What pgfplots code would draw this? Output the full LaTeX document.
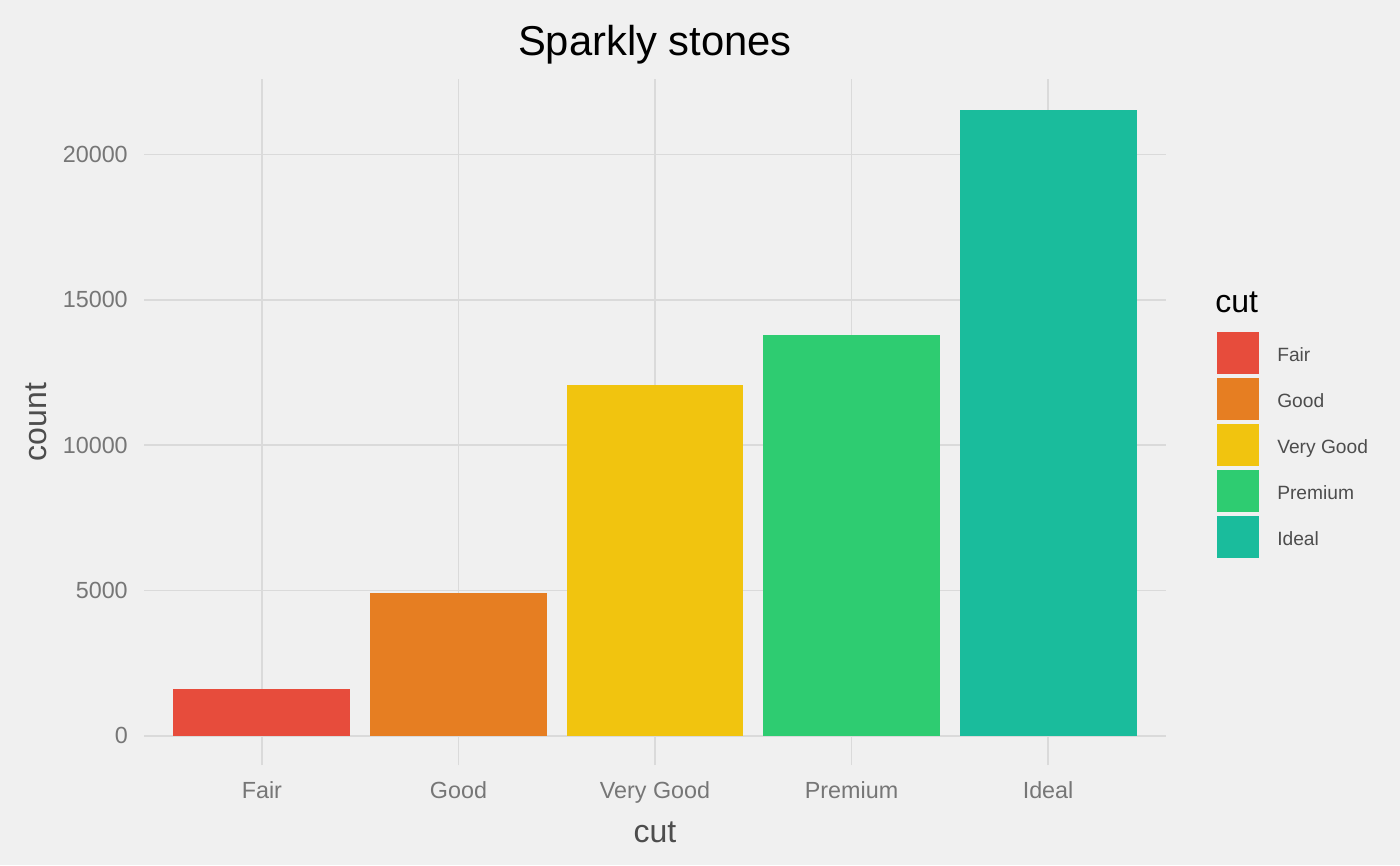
\documentclass[border=0pt]{standalone}
\usepackage{fontspec}
\setmainfont{Liberation Sans}
\usepackage{pgfplots}
\pgfplotsset{compat=1.18}

\definecolor{bgColor}{HTML}{F0F0F0}
\definecolor{gridColor}{HTML}{DADADA}
\definecolor{tickText}{HTML}{767676}
\definecolor{labText}{HTML}{4D4D4D}
\definecolor{cFair}{HTML}{E74C3C}
\definecolor{cGood}{HTML}{E67E22}
\definecolor{cVeryGood}{HTML}{F1C40F}
\definecolor{cPremium}{HTML}{2ECC71}
\definecolor{cIdeal}{HTML}{1ABC9C}

\begin{document}
\begin{tikzpicture}
% 1 unit = 1 pixel of the 1400x865 reference, y grows downwards
\begin{scope}[x=0.75pt, y=-0.75pt]
\fill[bgColor] (0,0) rectangle (1400,865);

% titles
\node[anchor=base, inner sep=0pt, font=\fontsize{31.3}{36}\selectfont] at (655,55) {Sparkly stones};
\node[anchor=base, inner sep=0pt, text=labText, font=\fontsize{24}{28}\selectfont] at (655,842) {cut};
\node[anchor=base, rotate=90, inner sep=0pt, text=labText, font=\fontsize{24}{28}\selectfont] at (46,422) {count};

% legend
\node[anchor=base west, inner sep=0pt, font=\fontsize{24}{28}\selectfont] at (1215,312) {cut};
\foreach \c/\t [count=\i from 0] in {cFair/Fair, cGood/Good, cVeryGood/Very Good, cPremium/Premium, cIdeal/Ideal} {
    \fill[\c] (1217,332+46*\i) rectangle (1259,374+46*\i);
    \node[anchor=base west, inner sep=0pt, text=labText, font=\fontsize{14.4}{17}\selectfont] at (1277,361+46*\i) {\t};
}
\end{scope}

% panel: x 144..1166 px, y 79..765 px
\begin{axis}[
    at={(108pt,-573.75pt)}, anchor=south west,
    scale only axis,
    width=766.5pt, height=514.5pt,
    xmin=0.4, xmax=5.6,
    ymin=-1001, ymax=22600,
    xtick={1,2,3,4,5},
    xticklabels={Fair,Good,Very Good,Premium,Ideal},
    ytick={0,5000,10000,15000,20000},
    scaled y ticks=false,
    /pgf/number format/assume math mode=true,
    yticklabel={\pgfmathprintnumber[fixed, 1000 sep={}]{\tick}},
    xmajorgrids, ymajorgrids,
    grid style={gridColor, line width=1.3pt},
    axis line style={draw=none},
    major tick length=0pt,
    tick label style={font=\fontsize{17.5}{20}\selectfont, text=tickText},
    xticklabel style={anchor=base, inner sep=0pt, yshift=-25pt},
    yticklabel style={anchor=east, inner sep=0pt, xshift=-12pt},
    ybar, bar width=0.9, bar shift=0pt,
    clip=false,
]
\addplot[fill=cFair, draw=none] coordinates {(1,1610)};
\addplot[fill=cGood, draw=none] coordinates {(2,4906)};
\addplot[fill=cVeryGood, draw=none] coordinates {(3,12082)};
\addplot[fill=cPremium, draw=none] coordinates {(4,13791)};
\addplot[fill=cIdeal, draw=none] coordinates {(5,21551)};
\end{axis}
\end{tikzpicture}
\end{document}
